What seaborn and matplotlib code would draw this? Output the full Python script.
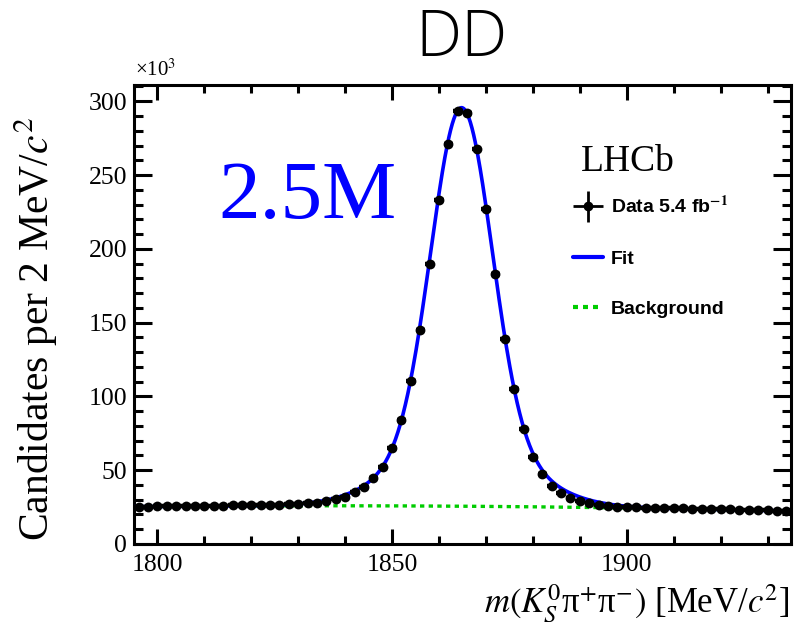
import numpy as np
import pandas as pd
import matplotlib
matplotlib.use("Agg")
import matplotlib.pyplot as plt
import seaborn as sns
from matplotlib.legend_handler import HandlerErrorbar
from matplotlib.lines import Line2D
from matplotlib.ticker import MultipleLocator

# ---- binned K0S pi+ pi- invariant mass spectrum (DD category) ----
mass_lo, mass_hi, bin_width = 1795.0, 1935.0, 2.0
bin_centres = np.arange(mass_lo + bin_width / 2, mass_hi, bin_width)

# candidates per 2 MeV/c^2 bin, in units of 10^3
candidates = [
    25.3, 25.4, 25.5, 25.6, 25.6, 25.7, 25.8, 25.9, 25.9, 26.0,
    26.1, 26.2, 26.3, 26.4, 26.6, 26.7, 26.9, 27.1, 27.5, 28.1,
    29.0, 30.3, 32.1, 35.0, 38.8, 44.5, 52.3, 64.8, 83.8, 110.2,
    145.3, 189.4, 232.8, 271.3, 293.6, 292.2, 267.5, 227.3, 182.7, 138.9,
    104.7, 77.8, 59.1, 47.4, 39.3, 34.5, 31.1, 29.1, 27.6, 26.6,
    25.9, 25.4, 25.1, 24.8, 24.6, 24.5, 24.4, 24.3, 24.1, 24.0,
    23.9, 23.8, 23.6, 23.5, 23.3, 23.2, 23.0, 22.8, 22.6, 22.4,
]

# ---- fit result: double-Gaussian signal + quadratic background ----
sig_mean = 1864.8        # MeV/c^2
sig_core_width = 6.4     # MeV/c^2
sig_wide_width = 13.0    # MeV/c^2
sig_core_frac = 0.71
sig_yield = 2540.0       # x10^3 candidates
bkg_ref = 1865.0
bkg_coeffs = [25.6, -0.021, -3.68e-4]   # per bin, x10^3

signal_label = "2.5M"
title = "DD"
lumi_label = r"Data 5.4 fb$^{\mathbf{-1}}$"


def gauss(x, mu, s):
    return np.exp(-0.5 * ((x - mu) / s) ** 2) / (np.sqrt(2 * np.pi) * s)


def background(x):
    d = x - bkg_ref
    return bkg_coeffs[0] + bkg_coeffs[1] * d + bkg_coeffs[2] * d ** 2


def total_model(x):
    shape = (sig_core_frac * gauss(x, sig_mean, sig_core_width)
             + (1 - sig_core_frac) * gauss(x, sig_mean, sig_wide_width))
    return background(x) + sig_yield * bin_width * shape


data = pd.DataFrame({"mass": bin_centres, "cands": candidates})
grid = np.linspace(mass_lo, mass_hi, 800)
curves = pd.DataFrame({"mass": grid,
                       "fit": total_model(grid),
                       "bkg": background(grid)})

# ---- style ----
sns.set_theme(style="ticks")
plt.rcParams.update({
    "font.family": ["Liberation Serif", "DejaVu Sans"],
    "mathtext.fontset": "stix",
    "text.color": "black",
    "axes.labelcolor": "black",
    "axes.linewidth": 2.2,
    "xtick.direction": "in", "ytick.direction": "in",
    "xtick.top": True, "ytick.right": True,
    "xtick.major.width": 2.2, "ytick.major.width": 2.2,
    "xtick.minor.width": 2.2, "ytick.minor.width": 2.2,
    "xtick.major.size": 11, "xtick.minor.size": 5.5,
    "ytick.major.size": 13, "ytick.minor.size": 6.5,
    "xtick.color": "black", "ytick.color": "black",
    "axes.edgecolor": "black",
})

fig = plt.figure(figsize=(7.96, 6.27), dpi=100)
ax = fig.add_axes([134 / 796, 1 - 544 / 627, (791 - 134) / 796, (544 - 85) / 627])

blue = "#0000ff"
green = "#00cc00"

sns.lineplot(data=curves, x="mass", y="bkg", ax=ax, color=green, lw=2.4,
             linestyle=(0, (1.3, 1.3)), zorder=2)
sns.lineplot(data=curves, x="mass", y="fit", ax=ax, color=blue, lw=2.6, zorder=3)

yerr = np.sqrt(np.array(candidates) * 1e3) / 1e3
ax.errorbar(data["mass"], data["cands"], xerr=bin_width / 2, yerr=yerr,
            fmt="none", ecolor="black", elinewidth=3.2, capsize=0, zorder=4)
sns.scatterplot(data=data, x="mass", y="cands", ax=ax, color="black",
                s=50, edgecolor="black", linewidth=0, zorder=5)

ax.set_xlim(mass_lo, mass_hi)
ax.set_ylim(0, 311)
ax.xaxis.set_major_locator(MultipleLocator(50))
ax.xaxis.set_minor_locator(MultipleLocator(10))
ax.yaxis.set_major_locator(MultipleLocator(50))
ax.yaxis.set_minor_locator(MultipleLocator(10))
ax.tick_params(axis="both", which="major", labelsize=18.5)
ax.tick_params(axis="x", which="major", pad=7)
ax.tick_params(axis="y", which="major", pad=5)
ax.set_xlabel("")
ax.set_ylabel("")

fig.text(790 / 796, 1 - 612 / 627,
         r"$m(K^{0}_{S}$π$^{+}$π$^{-})$ [MeV/$c^{2}$]",
         fontsize=25, ha="right", va="baseline")
fig.text(36 / 796, 1 - 117 / 627, r"Candidates per 2 MeV/$c^{2}$",
         fontsize=30, rotation=90, ha="center", va="top")

ax.text(0.002, 1.01, r"×10$^{3}$", transform=ax.transAxes, fontsize=15,
        ha="left", va="bottom")

fig.text(462 / 796, 1 - 40 / 627, title, ha="center", va="center",
         fontsize=47, family=["Open Sans", "DejaVu Sans"], fontweight="light")

ax.text(0.128, 0.710, signal_label, transform=ax.transAxes, color=blue,
        fontsize=60, ha="left", va="baseline")
ax.text(0.68, 0.8126, "LHCb", transform=ax.transAxes, fontsize=27,
        ha="left", va="baseline")

handles = [
    ax.errorbar([], [], xerr=1, yerr=1, fmt="o", color="black", ms=6,
                elinewidth=2.0, capsize=4, capthick=2.0),
    Line2D([], [], color=blue, lw=3),
    Line2D([], [], color=green, lw=3, linestyle=(0, (1.2, 1.2))),
]
labels = [lumi_label, "Fit", "Background"]
leg = ax.legend(handles, labels, loc="upper left",
                bbox_to_anchor=(0.668, 0.760), frameon=False,
                prop={"family": ["Liberation Sans", "DejaVu Sans"],
                      "weight": "bold", "size": 14},
                handlelength=1.55, handletextpad=0.4, labelspacing=1.68,
                borderaxespad=0, borderpad=0,
                handler_map={type(handles[0]): HandlerErrorbar(xerr_size=0.78, yerr_size=0.78)})

fig.savefig("out.png", dpi=100)
